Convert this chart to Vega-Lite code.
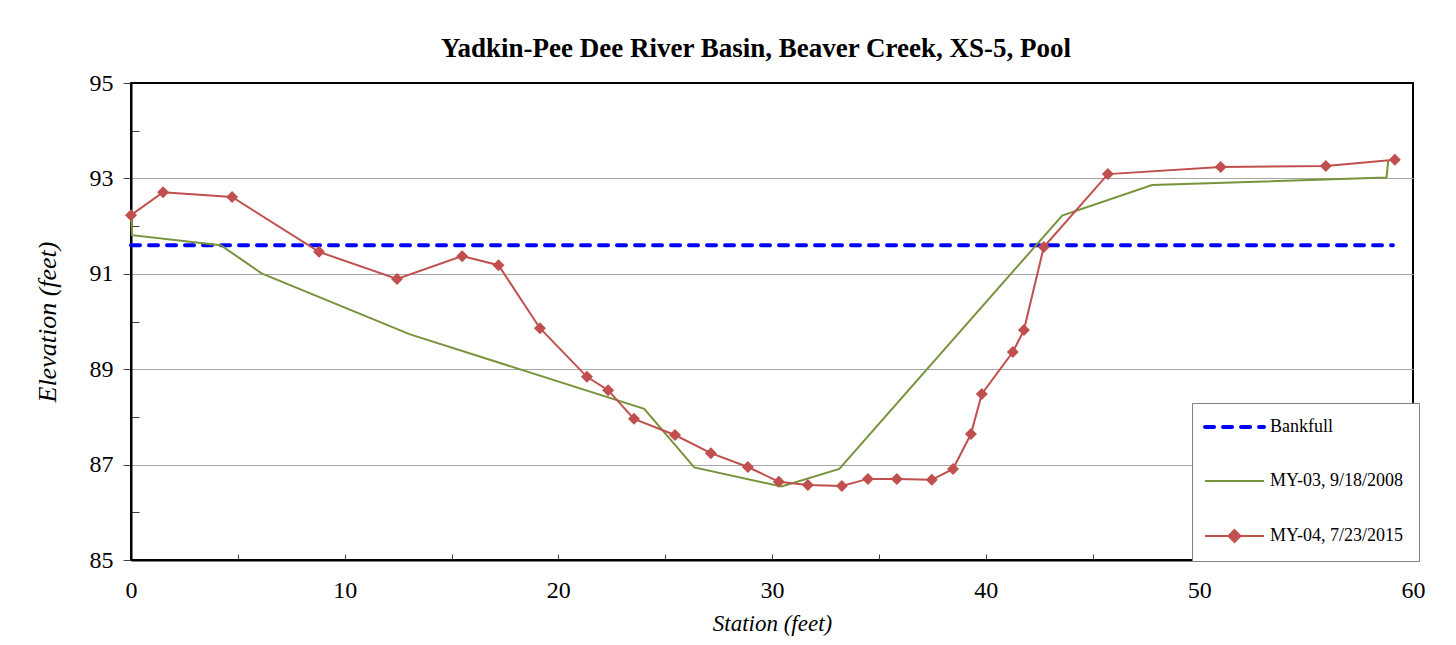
{
  "$schema": "https://vega.github.io/schema/vega-lite/v6.json",
  "width": 1282,
  "height": 477,
  "autosize": {"type": "none"},
  "padding": {"left": 131, "top": 83, "right": 43, "bottom": 85},
  "background": "white",
  "title": {
    "text": "Yadkin-Pee Dee River Basin, Beaver Creek, XS-5, Pool",
    "font": "Liberation Serif",
    "fontSize": 27,
    "fontWeight": "bold",
    "color": "black",
    "anchor": "middle",
    "frame": "group",
    "dx": -16,
    "offset": 8
  },
  "config": {
    "view": {"stroke": "black", "strokeWidth": 2},
    "font": "Liberation Serif"
  },
  "data": {
    "values": [
      {"series": "Bankfull", "station": 0, "elev": 91.6},
      {"series": "Bankfull", "station": 59.06, "elev": 91.6},
      {"series": "MY-03, 9/18/2008", "station": 0, "elev": 92.22},
      {"series": "MY-03, 9/18/2008", "station": 0.05, "elev": 91.81},
      {"series": "MY-03, 9/18/2008", "station": 4.2, "elev": 91.6},
      {"series": "MY-03, 9/18/2008", "station": 6.11, "elev": 91.01},
      {"series": "MY-03, 9/18/2008", "station": 13.06, "elev": 89.73},
      {"series": "MY-03, 9/18/2008", "station": 24.02, "elev": 88.17},
      {"series": "MY-03, 9/18/2008", "station": 26.36, "elev": 86.94},
      {"series": "MY-03, 9/18/2008", "station": 30.45, "elev": 86.54},
      {"series": "MY-03, 9/18/2008", "station": 33.15, "elev": 86.91},
      {"series": "MY-03, 9/18/2008", "station": 43.58, "elev": 92.22},
      {"series": "MY-03, 9/18/2008", "station": 47.79, "elev": 92.86},
      {"series": "MY-03, 9/18/2008", "station": 58.76, "elev": 93.02},
      {"series": "MY-03, 9/18/2008", "station": 58.84, "elev": 93.37},
      {"series": "MY-04, 7/23/2015", "station": 0, "elev": 92.23},
      {"series": "MY-04, 7/23/2015", "station": 1.5, "elev": 92.71},
      {"series": "MY-04, 7/23/2015", "station": 4.73, "elev": 92.61},
      {"series": "MY-04, 7/23/2015", "station": 8.8, "elev": 91.46},
      {"series": "MY-04, 7/23/2015", "station": 12.45, "elev": 90.89},
      {"series": "MY-04, 7/23/2015", "station": 15.5, "elev": 91.37},
      {"series": "MY-04, 7/23/2015", "station": 17.2, "elev": 91.18},
      {"series": "MY-04, 7/23/2015", "station": 19.14, "elev": 89.86},
      {"series": "MY-04, 7/23/2015", "station": 21.34, "elev": 88.84},
      {"series": "MY-04, 7/23/2015", "station": 22.33, "elev": 88.56},
      {"series": "MY-04, 7/23/2015", "station": 23.54, "elev": 87.96},
      {"series": "MY-04, 7/23/2015", "station": 25.46, "elev": 87.62},
      {"series": "MY-04, 7/23/2015", "station": 27.14, "elev": 87.24},
      {"series": "MY-04, 7/23/2015", "station": 28.87, "elev": 86.95},
      {"series": "MY-04, 7/23/2015", "station": 30.32, "elev": 86.64},
      {"series": "MY-04, 7/23/2015", "station": 31.68, "elev": 86.57},
      {"series": "MY-04, 7/23/2015", "station": 33.27, "elev": 86.55},
      {"series": "MY-04, 7/23/2015", "station": 34.49, "elev": 86.7},
      {"series": "MY-04, 7/23/2015", "station": 35.84, "elev": 86.7},
      {"series": "MY-04, 7/23/2015", "station": 37.48, "elev": 86.68},
      {"series": "MY-04, 7/23/2015", "station": 38.47, "elev": 86.91},
      {"series": "MY-04, 7/23/2015", "station": 39.31, "elev": 87.64},
      {"series": "MY-04, 7/23/2015", "station": 39.82, "elev": 88.48},
      {"series": "MY-04, 7/23/2015", "station": 41.27, "elev": 89.36},
      {"series": "MY-04, 7/23/2015", "station": 41.79, "elev": 89.82},
      {"series": "MY-04, 7/23/2015", "station": 42.72, "elev": 91.56},
      {"series": "MY-04, 7/23/2015", "station": 45.72, "elev": 93.09},
      {"series": "MY-04, 7/23/2015", "station": 51.0, "elev": 93.24},
      {"series": "MY-04, 7/23/2015", "station": 55.92, "elev": 93.26},
      {"series": "MY-04, 7/23/2015", "station": 59.15, "elev": 93.39}
    ]
  },
  "encoding": {
    "x": {
      "field": "station",
      "type": "quantitative",
      "scale": {"domain": [0, 60], "nice": false, "zero": false},
      "axis": {
        "title": "Station (feet)",
        "titleFont": "Liberation Serif",
        "titleFontSize": 23,
        "titleFontStyle": "italic",
        "titleFontWeight": "normal",
        "titleColor": "black",
        "titlePadding": 10,
        "values": [0, 5, 10, 15, 20, 25, 30, 35, 40, 45, 50, 55, 60],
        "labelExpr": "datum.value % 10 === 0 ? datum.label : ''",
        "labelFlush": false,
        "labelFont": "Liberation Serif",
        "labelFontSize": 24,
        "labelColor": "black",
        "labelPadding": 24,
        "tickSize": -6,
        "tickColor": "#404040",
        "domainColor": "black",
        "domainWidth": 2,
        "grid": false
      }
    },
    "y": {
      "field": "elev",
      "type": "quantitative",
      "scale": {"domain": [85, 95], "nice": false, "zero": false},
      "axis": {
        "title": "Elevation (feet)",
        "titleFont": "Liberation Serif",
        "titleFontSize": 26,
        "titleFontStyle": "italic",
        "titleFontWeight": "normal",
        "titleColor": "black",
        "titlePadding": 29,
        "values": [85, 86, 87, 88, 89, 90, 91, 92, 93, 94, 95],
        "labelExpr": "datum.value % 2 === 1 ? datum.label : ''",
        "labelFlush": false,
        "labelFont": "Liberation Serif",
        "labelFontSize": 24,
        "labelColor": "black",
        "labelPadding": 10,
        "tickSize": {"condition": {"test": "datum.value % 2 === 1", "value": 8}, "value": -8},
        "tickColor": "#404040",
        "domainColor": "black",
        "domainWidth": 2,
        "grid": true,
        "gridColor": "#A6A6A6",
        "gridWidth": 1,
        "gridOpacity": {"condition": {"test": "datum.value % 2 === 1 && datum.value < 95 && datum.value > 85", "value": 1}, "value": 0}
      }
    },
    "color": {
      "field": "series",
      "type": "nominal",
      "scale": {
        "domain": ["Bankfull", "MY-03, 9/18/2008", "MY-04, 7/23/2015"],
        "range": ["#0000FF", "#77933C", "#C0504D"]
      },
      "legend": {
        "title": null,
        "orient": "none",
        "legendX": 1061,
        "legendY": 320,
        "padding": 15,
        "rowPadding": 36,
        "strokeColor": "#808080",
        "fillColor": "white",
        "cornerRadius": 0,
        "symbolType": "stroke",
        "symbolSize": 900,
        "symbolStrokeWidth": 2,
        "labelOffset": 45,
        "labelFont": "Liberation Serif",
        "labelFontSize": 18,
        "labelColor": "black",
        "labelLimit": 300,
        "encode": {
          "symbols": {
            "update": {
              "shape": {"signal": "datum.value === 'MY-04, 7/23/2015' ? 'M-0.73,0H3.2M0.83,0L1.23,-0.4L1.63,0L1.23,0.4Z' : 'M-0.73,0H3.2'"},
              "strokeWidth": {"signal": "datum.value === 'Bankfull' ? 4 : 2"},
              "strokeDash": {"signal": "datum.value === 'Bankfull' ? [9, 9] : [1, 0]"},
              "strokeCap": {"signal": "datum.value === 'Bankfull' ? 'round' : 'butt'"},
              "fill": {"signal": "datum.value === 'MY-04, 7/23/2015' ? '#C0504D' : 'transparent'"}
            }
          }
        }
      }
    }
  },
  "layer": [
    {
      "transform": [{"filter": "datum.series === 'Bankfull'"}],
      "mark": {"type": "line", "strokeWidth": 4, "strokeDash": [9, 9], "strokeCap": "round"}
    },
    {
      "transform": [{"filter": "datum.series !== 'Bankfull'"}],
      "mark": {"type": "line", "strokeWidth": 2}
    },
    {
      "transform": [{"filter": "datum.series === 'MY-04, 7/23/2015'"}],
      "mark": {"type": "point", "shape": "diamond", "filled": true, "size": 144, "opacity": 1}
    }
  ]
}
